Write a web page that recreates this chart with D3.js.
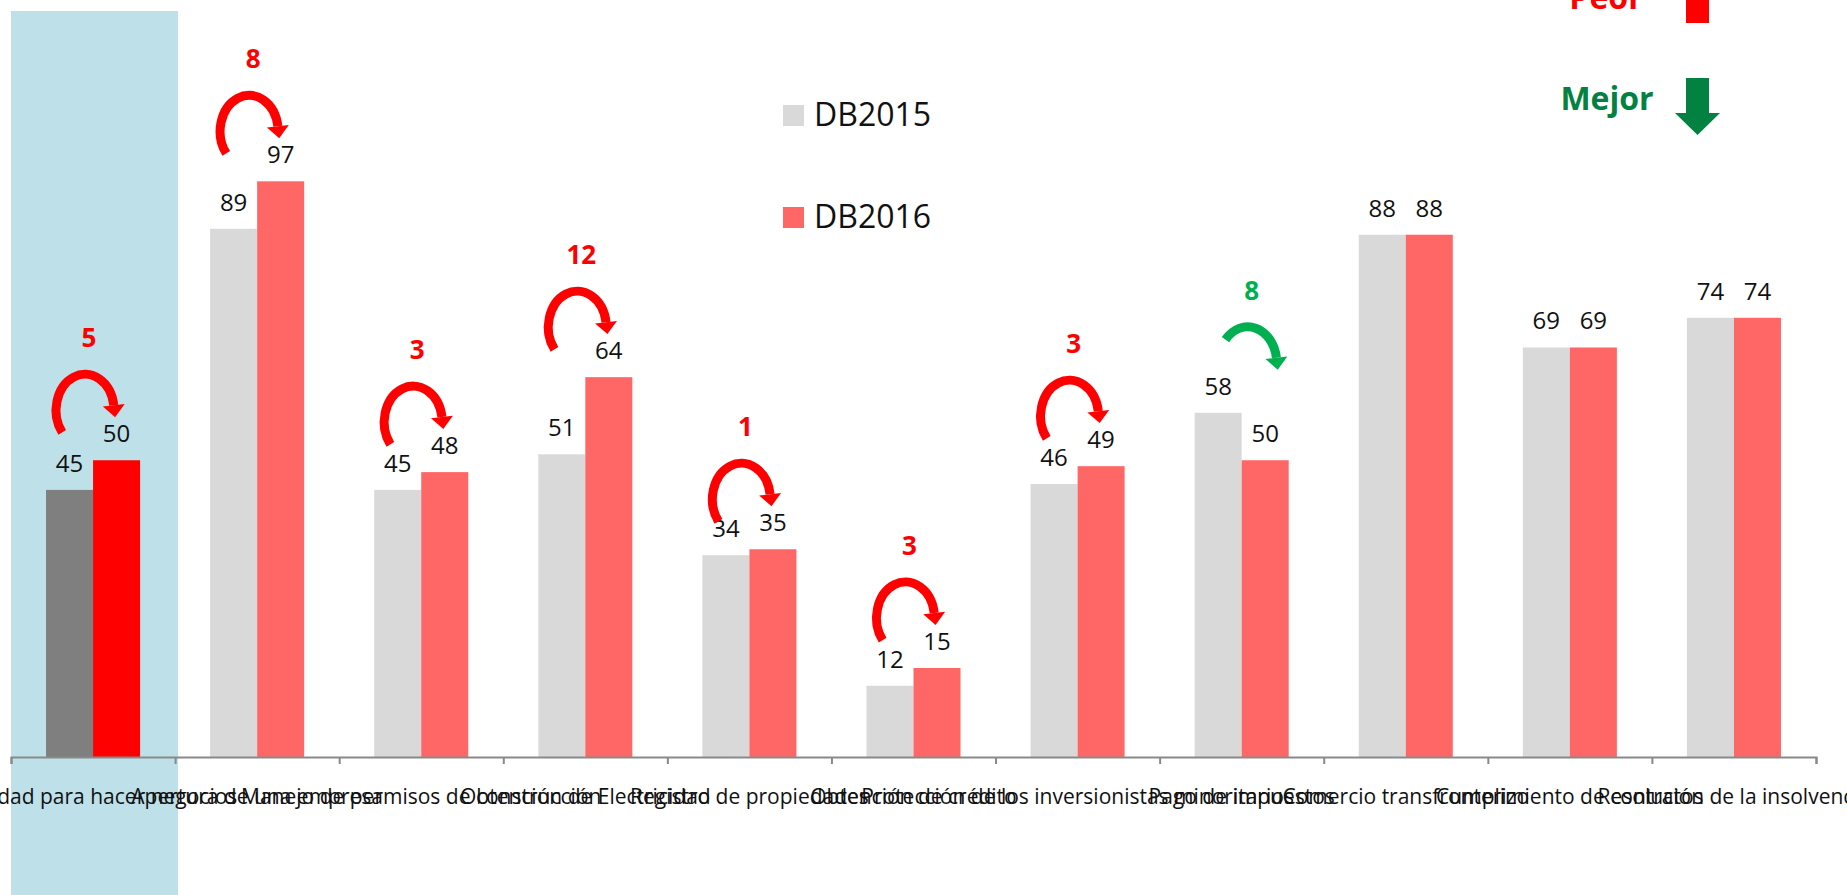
<!DOCTYPE html>
<html lang="es">
<head>
<meta charset="utf-8">
<script src="https://cdn.jsdelivr.net/npm/d3@7"></script>
<style>
  html, body { margin: 0; padding: 0; background: #fff; overflow: hidden; }
  svg { display: block; font-family: "Open Sans", "Noto Sans", sans-serif; }
</style>
</head>
<body>
<svg id="chart"></svg>
<script>
// Data
const categories = [
    "Facilidad para hacer negocios",
    "Apertura de una empresa",
    "Manejo de permisos de construcción",
    "Obtención de Electricidad",
    "Registro de propiedades",
    "Obtención de crédito",
    "Protección de los inversionistas minoritarios",
    "Pago de impuestos",
    "Comercio transfronterizo",
    "Cumplimiento de contratos",
    "Resolución de la insolvencia"
];
const seriesNames = ["DB2015", "DB2016"];
const db2015 = [45, 89, 45, 51, 34, 12, 46, 58, 88, 69, 74];
const db2016 = [50, 97, 48, 64, 35, 15, 49, 50, 88, 69, 74];
const changes = [5, 8, 3, 12, 1, 3, 3, 8, null, null, null];
const highlighted = "Facilidad para hacer negocios";

const width = 1847, height = 895;
const colors = ["#d9d9d9", "#ff6666"];
const highlightColors = ["#7f7f7f", "#ff0000"];
const worseColor = "#ff0000", betterColor = "#00b050";

const svg = d3.select("#chart").attr("width", width).attr("height", height);

const rows = categories.map((cat, i) => ({
    cat: cat,
    values: [db2015[i], db2016[i]],
    change: changes[i]
}));

const x = d3.scaleBand()
    .domain(categories)
    .range([11, 1816])
    .paddingInner(0.427)
    .paddingOuter(0.2135);

const x1 = d3.scaleBand()
    .domain(seriesNames)
    .range([0, x.bandwidth()]);

const y = d3.scaleLinear()
    .domain([0, 120])
    .range([757, 44.8]);

// category edges (ticks sit between categories)
const xEdge = d3.scaleLinear()
    .domain([0, categories.length])
    .range(x.range());

// light blue highlight behind the first category
const hi = categories.indexOf(highlighted);
svg.append("rect")
    .attr("x", xEdge(hi))
    .attr("y", 11)
    .attr("width", xEdge(hi + 1) - xEdge(hi) + 3)
    .attr("height", height)
    .attr("fill", "#bee0e8");

// bars
const groups = svg.selectAll(".group").data(rows).enter().append("g")
    .attr("class", "group")
    .attr("transform", d => `translate(${x(d.cat)},0)`);

groups.selectAll("rect").data(d => d.values.map((v, j) => ({ cat: d.cat, series: seriesNames[j], j: j, v: v })))
    .enter().append("rect")
    .attr("x", d => x1(d.series))
    .attr("y", d => y(d.v))
    .attr("width", x1.bandwidth())
    .attr("height", d => y(0) - y(d.v))
    .attr("fill", d => d.cat === highlighted ? highlightColors[d.j] : colors[d.j]);

groups.selectAll("text.val").data(d => d.values.map((v, j) => ({ series: seriesNames[j], v: v })))
    .enter().append("text")
    .attr("class", "val")
    .attr("x", d => x1(d.series) + x1.bandwidth() / 2)
    .attr("y", d => y(d.v) - 18)
    .attr("text-anchor", "middle")
    .attr("font-size", 24)
    .attr("fill", "#111")
    .text(d => d.v);

// axis line with ticks at category edges
svg.append("g")
    .attr("transform", `translate(0,${y(0)})`)
    .call(d3.axisBottom(xEdge)
        .tickValues(d3.range(categories.length + 1))
        .tickFormat("")
        .tickSize(7)
        .tickSizeOuter(7))
    .call(g => g.selectAll("path, line").attr("stroke", "#898989").attr("stroke-width", 2));

// category labels
svg.append("g")
    .attr("transform", `translate(0,${y(0)})`)
    .call(d3.axisBottom(x).tickSize(0).tickPadding(0))
    .call(g => g.select(".domain").remove())
    .attr("font-family", null)
    .attr("font-size", 21)
    .selectAll("text")
    .attr("y", 47)
    .attr("dy", null)
    .attr("fill", "#111");

// curved change arrows
const rx = 29, ry = 36;
rows.filter(d => d.change !== null).forEach(d => {
    const worse = d.values[1] > d.values[0];
    const color = worse ? worseColor : betterColor;
    const cx = x(d.cat) + x.bandwidth() / 2 + (worse ? -8 : 6);
    const top = y(d3.max(d.values)) - 86;
    const cy = top + ry;
    const a0 = worse ? 218 : 140, a1 = 8;
    const pt = a => [cx + rx * Math.cos(a * Math.PI / 180), cy - ry * Math.sin(a * Math.PI / 180)];
    const [sx, sy] = pt(a0), [ex, ey] = pt(a1);
    const large = (a0 - a1) > 180 ? 1 : 0;

    svg.append("path")
        .attr("d", `M${sx},${sy} A${rx},${ry} 0 ${large} 1 ${ex},${ey}`)
        .attr("fill", "none")
        .attr("stroke", color)
        .attr("stroke-width", 9);

    // head along the tangent at the end of the arc
    const r = a1 * Math.PI / 180;
    let tx = rx * Math.sin(r), ty = ry * Math.cos(r);
    const len = Math.hypot(tx, ty);
    tx /= len; ty /= len;
    const nx = -ty, ny = tx;
    svg.append("path")
        .attr("d", `M${ex + nx * 11},${ey + ny * 11} L${ex - nx * 11},${ey - ny * 11} L${ex + tx * 12},${ey + ty * 12} Z`)
        .attr("fill", color);

    svg.append("text")
        .attr("x", cx + 4)
        .attr("y", top - 27)
        .attr("text-anchor", "middle")
        .attr("font-size", 26)
        .attr("font-weight", "bold")
        .attr("fill", color)
        .text(d.change);
});

// legend
const legend = svg.append("g").attr("transform", "translate(783,105)");
seriesNames.forEach((s, i) => {
    legend.append("rect")
        .attr("x", 0).attr("y", i * 102)
        .attr("width", 21).attr("height", 21)
        .attr("fill", colors[i]);
    legend.append("text")
        .attr("x", 31).attr("y", i * 102 + 21)
        .attr("font-size", 32)
        .attr("fill", "#111")
        .text(s);
});

// Peor / Mejor key
svg.append("text")
    .attr("x", 1606).attr("y", 9)
    .attr("text-anchor", "middle")
    .attr("font-size", 32).attr("font-weight", "bold")
    .attr("fill", worseColor)
    .text("Peor");
svg.append("path")
    .attr("d", "M1686,23 V-12 H1675 L1697.5,-34 L1720,-12 H1709 V23 Z")
    .attr("fill", worseColor);

svg.append("text")
    .attr("x", 1607).attr("y", 110)
    .attr("text-anchor", "middle")
    .attr("font-size", 32).attr("font-weight", "bold")
    .attr("fill", "#038141")
    .text("Mejor");
svg.append("path")
    .attr("d", "M1686,78 V113 H1675 L1697.5,135 L1720,113 H1709 V78 Z")
    .attr("fill", "#038141");
</script>
</body>
</html>
